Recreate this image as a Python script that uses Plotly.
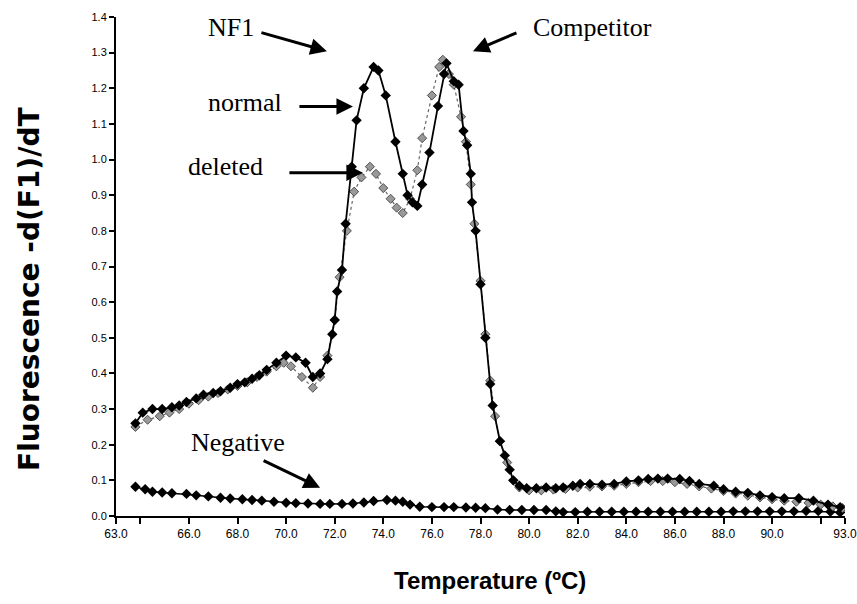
import plotly.graph_objects as go

# ---- data ----
normal_t = [63.8, 64.1, 64.5, 64.9, 65.3, 65.6, 65.9, 66.3, 66.6, 67.0, 67.3, 67.7, 68.0, 68.3, 68.6, 68.9,
            69.2, 69.6, 70.0, 70.4, 70.8, 71.1, 71.4, 71.7, 71.9, 72.0, 72.1, 72.3, 72.45, 72.7, 72.9, 73.2,
            73.6, 73.8, 74.1, 74.5, 74.8, 75.0, 75.2, 75.4, 75.6, 75.9, 76.25, 76.5, 76.6, 76.9, 77.1, 77.3,
            77.45, 77.6, 77.65, 77.8, 78.0, 78.2, 78.4, 78.5, 78.8, 79.0, 79.2, 79.35, 79.6, 79.9, 80.3, 80.7,
            81.1, 81.4, 81.8, 82.1, 82.5, 83.0, 83.5, 84.0, 84.5, 84.9, 85.3, 85.7, 86.2, 86.6, 87.0, 87.6,
            88.0, 88.5, 89.0, 89.5, 90.0, 90.5, 91.1, 91.7, 92.3, 92.8]
normal_v = [0.26, 0.29, 0.30, 0.30, 0.305, 0.31, 0.32, 0.33, 0.34, 0.345, 0.35, 0.36, 0.37, 0.375, 0.385, 0.395,
            0.41, 0.43, 0.45, 0.445, 0.43, 0.39, 0.40, 0.44, 0.51, 0.55, 0.63, 0.69, 0.82, 0.98, 1.11, 1.20,
            1.26, 1.25, 1.18, 1.05, 0.96, 0.90, 0.88, 0.87, 0.93, 1.02, 1.15, 1.24, 1.27, 1.22, 1.21, 1.08,
            1.04, 0.96, 0.88, 0.80, 0.65, 0.50, 0.37, 0.31, 0.21, 0.17, 0.13, 0.10, 0.085, 0.078, 0.078, 0.08,
            0.078, 0.08, 0.085, 0.09, 0.09, 0.088, 0.09, 0.097, 0.10, 0.104, 0.105, 0.105, 0.104, 0.098, 0.09, 0.085,
            0.075, 0.068, 0.065, 0.058, 0.053, 0.05, 0.05, 0.043, 0.032, 0.025]

deleted_t = [63.8, 64.3, 64.8, 65.2, 65.6, 66.0, 66.4, 66.8, 67.2, 67.6, 68.0, 68.4, 68.8, 69.2, 69.6, 69.9,
             70.2, 70.65, 71.1, 71.4, 71.7, 72.0, 72.2, 72.5, 72.8, 73.1, 73.45, 73.7, 74.0, 74.3, 74.55, 74.8,
             75.1, 75.4, 75.6, 76.0, 76.3, 76.45, 76.7, 76.9, 77.2, 77.4, 77.6, 77.75, 78.0, 78.2, 78.4, 78.6,
             78.8, 79.1, 79.35, 79.6, 80.0, 80.5, 81.0, 81.5, 82.0, 82.5, 83.0, 83.5, 84.0, 84.5, 85.0, 85.5,
             86.0, 86.5, 87.0, 87.5, 88.0, 88.5, 89.0, 89.5, 90.0, 90.5, 91.0, 91.5, 92.0, 92.5, 92.9]
deleted_v = [0.25, 0.27, 0.28, 0.29, 0.30, 0.315, 0.325, 0.335, 0.345, 0.355, 0.365, 0.375, 0.39, 0.405, 0.42, 0.43,
             0.42, 0.39, 0.36, 0.39, 0.45, 0.55, 0.67, 0.80, 0.91, 0.95, 0.98, 0.96, 0.92, 0.89, 0.865, 0.85,
             0.89, 0.97, 1.06, 1.18, 1.26, 1.28, 1.24, 1.21, 1.12, 1.05, 0.93, 0.82, 0.66, 0.51, 0.38, 0.28,
             0.21, 0.15, 0.10, 0.08, 0.072, 0.072, 0.074, 0.076, 0.08, 0.082, 0.083, 0.085, 0.09, 0.095, 0.098, 0.098,
             0.095, 0.09, 0.083, 0.077, 0.07, 0.063, 0.057, 0.052, 0.047, 0.043, 0.04, 0.037, 0.032, 0.027, 0.022]

negative_t = [63.8, 64.2, 64.5, 64.9, 65.3, 65.9, 66.3, 66.8, 67.3, 67.7, 68.2, 68.6, 69.0, 69.5, 70.0, 70.4,
              70.9, 71.4, 71.8, 72.3, 72.75, 73.2, 73.6, 74.15, 74.5, 74.8, 75.1, 75.5, 76.0, 76.5, 76.9, 77.4,
              77.8, 78.2, 78.7, 79.2, 79.7, 80.2, 80.7, 81.1, 81.4, 81.9, 82.4, 82.9, 83.4, 83.9, 84.4, 84.9,
              85.4, 85.9, 86.4, 86.9, 87.4, 87.9, 88.4, 88.9, 89.4, 89.9, 90.4, 90.9, 91.4, 91.9, 92.4, 92.8]
negative_v = [0.082, 0.075, 0.068, 0.066, 0.064, 0.062, 0.058, 0.055, 0.051, 0.049, 0.047, 0.045, 0.043, 0.04, 0.037, 0.036,
              0.035, 0.034, 0.034, 0.034, 0.035, 0.038, 0.042, 0.045, 0.043, 0.04, 0.032, 0.026, 0.025, 0.025, 0.025, 0.024,
              0.023, 0.022, 0.018, 0.017, 0.017, 0.017, 0.017, 0.013, 0.011, 0.011, 0.012, 0.012, 0.012, 0.012, 0.012, 0.012,
              0.012, 0.012, 0.012, 0.012, 0.012, 0.012, 0.013, 0.013, 0.013, 0.013, 0.013, 0.013, 0.014, 0.014, 0.012, 0.01]

x_tickvals = [63, 64, 66, 68, 70, 72, 74, 76, 78, 80, 82, 84, 86, 88, 90, 92, 93]
x_ticktext = ["63.0", "", "66.0", "68.0", "70.0", "72.0", "74.0", "76.0", "78.0", "80.0", "82.0",
              "84.0", "86.0", "88.0", "90.0", "", "93.0"]
y_tickvals = [0.0, 0.1, 0.2, 0.3, 0.4, 0.5, 0.6, 0.7, 0.8, 0.9, 1.0, 1.1, 1.2, 1.3, 1.4]
y_ticktext = ["%.1f" % v for v in y_tickvals]
x_title = "Temperature (ºC)"
y_title = "Fluorescence -d(F1)/dT"

fig = go.Figure()
fig.add_trace(go.Scatter(x=negative_t, y=negative_v, mode="lines+markers", name="Negative",
                         line=dict(color="black", width=1.5),
                         marker=dict(symbol="diamond", size=8, color="black")))
fig.add_trace(go.Scatter(x=deleted_t, y=deleted_v, mode="lines+markers", name="deleted",
                         line=dict(color="#666666", width=1.2, dash="dot"),
                         marker=dict(symbol="diamond", size=7, color="#999999",
                                     line=dict(color="#333333", width=0.8))))
fig.add_trace(go.Scatter(x=normal_t, y=normal_v, mode="lines+markers", name="normal",
                         line=dict(color="black", width=1.8),
                         marker=dict(symbol="diamond", size=8, color="black")))

serif = dict(family="Liberation Serif, Times New Roman, serif", size=26, color="black")
texts = [("NF1", 67.75, 1.37), ("Competitor", 82.6, 1.37), ("normal", 68.3, 1.16),
         ("deleted", 67.5, 0.98), ("Negative", 68.0, 0.205)]
for t, x, y in texts:
    fig.add_annotation(x=x, y=y, text=t, showarrow=False, font=serif, xanchor="center", yanchor="middle")

arrows = [(71.68, 1.304, -67, -19), (77.69, 1.304, 45, -19), (72.75, 1.149, -55, 0),
          (73.16, 0.963, -75, 0), (71.4, 0.079, -58, -28)]
for x, y, ax, ay in arrows:
    fig.add_annotation(x=x, y=y, ax=ax, ay=ay, text="", showarrow=True, arrowhead=2,
                       arrowsize=1.1, arrowwidth=3, arrowcolor="black")

# axis titles placed as annotations (reference titles are off-centre)
fig.add_annotation(xref="paper", yref="paper", x=0.513, y=-0.13, yanchor="middle", xanchor="center",
                   text="<b>" + x_title + "</b>", showarrow=False,
                   font=dict(family="Liberation Sans Narrow, Arial, sans-serif", size=24, color="black"))
fig.add_annotation(xref="paper", yref="paper", x=-0.118, y=0.455, yanchor="middle", xanchor="center",
                   text="<b>" + y_title + "</b>", showarrow=False, textangle=-90,
                   font=dict(family="DejaVu Sans, Arial, sans-serif", size=28, color="black"))

fig.update_layout(
    width=857, height=604,
    margin=dict(l=116, r=12, t=17, b=88),
    paper_bgcolor="white", plot_bgcolor="white",
    showlegend=False,
    font=dict(family="Arial, Liberation Sans, sans-serif", color="black"),
)
fig.update_xaxes(range=[63, 93], tickmode="array", tickvals=x_tickvals, ticktext=x_ticktext,
                 ticks="outside", ticklen=6, tickwidth=2, tickcolor="black", ticklabeloverflow="allow",
                 automargin=False,
                 showline=True, linecolor="black", linewidth=2, showgrid=False, zeroline=False,
                 tickfont=dict(family="Liberation Sans Narrow, Arial, sans-serif", size=12, color="black"))
fig.update_yaxes(range=[0, 1.4], tickmode="array", tickvals=y_tickvals, ticktext=y_ticktext,
                 ticks="outside", ticklen=5, tickwidth=2, tickcolor="black", automargin=False,
                 showline=True, linecolor="black", linewidth=2, showgrid=False, zeroline=False,
                 tickfont=dict(family="Liberation Sans Narrow, Arial, sans-serif", size=11, color="black"))

fig.write_html("out.html")
